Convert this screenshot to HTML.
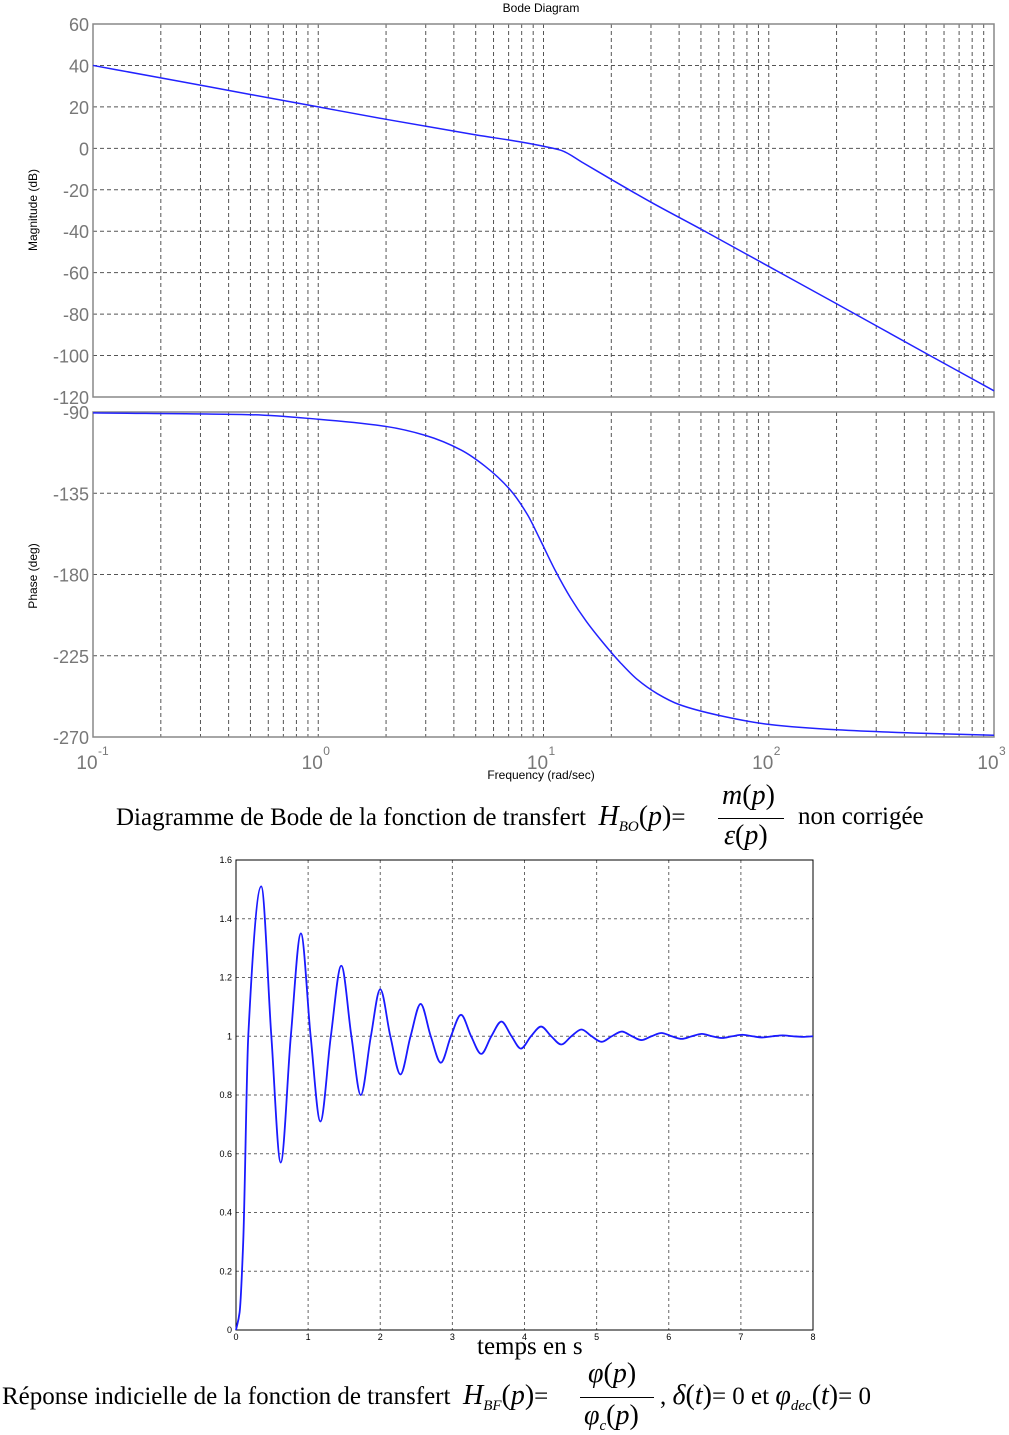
<!DOCTYPE html>
<html><head><meta charset="utf-8">
<style>
body{margin:0;background:#fff;width:1009px;height:1435px;position:relative;overflow:hidden;font-family:"Liberation Sans",sans-serif}
.cap{position:absolute;font-family:"Liberation Serif",serif;font-size:25px;white-space:nowrap;color:#000}
.it{font-style:italic}
.big{font-size:28px}
</style></head><body>
<svg id="bode" width="1009" height="800" style="position:absolute;left:0;top:0"></svg>
<svg id="step" width="1009" height="1360" style="position:absolute;left:0;top:0"></svg>

<div class="cap" style="left:116px;top:801px">Diagramme de Bode de la fonction de transfert&nbsp; <span class="it big">H</span><sub class="it" style="font-size:15px">BO</sub><span class="big">(</span><span class="it big">p</span><span class="big">)</span>=</div>
<div class="cap" style="left:722px;top:780px"><span class="it big">m</span><span class="big">(</span><span class="it big">p</span><span class="big">)</span></div>
<div style="position:absolute;left:718px;top:818px;width:66px;height:1px;background:#000"></div>
<div class="cap" style="left:724px;top:820px"><span class="it big">ε</span><span class="big">(</span><span class="it big">p</span><span class="big">)</span></div>
<div class="cap" style="left:798px;top:803px">non corrigée</div>

<div class="cap" style="left:477px;top:1333px">temps en s</div>
<div class="cap" style="left:2px;top:1380px">Réponse indicielle de la fonction de transfert&nbsp; <span class="it big">H</span><sub class="it" style="font-size:15px">BF</sub><span class="big">(</span><span class="it big">p</span><span class="big">)</span>=</div>
<div class="cap" style="left:588px;top:1358px"><span class="it big">φ</span><span class="big">(</span><span class="it big">p</span><span class="big">)</span></div>
<div style="position:absolute;left:580px;top:1397px;width:74px;height:1px;background:#000"></div>
<div class="cap" style="left:584px;top:1400px"><span class="it big">φ</span><sub class="it" style="font-size:15px">c</sub><span class="big">(</span><span class="it big">p</span><span class="big">)</span></div>
<div class="cap" style="left:660px;top:1380px">, <span class="it big">δ</span><span class="big">(</span><span class="it big">t</span><span class="big">)</span>= 0 et <span class="it big">φ</span><sub class="it" style="font-size:15px">dec</sub><span class="big">(</span><span class="it big">t</span><span class="big">)</span>= 0</div>

<script>
const magFreq=[0.1,0.2,0.5,1,2,5,8,10,12,15,20,30,50,100,200,500,1000];
const magDb=[40,34,26,20,14,6.5,3,1,-1,-7,-15,-26,-39,-57,-75,-99,-117];
const phFreq=[0.1,0.5,1,2,3,4.3,5.5,7.1,8.5,9.6,11.3,13.2,15.5,17.9,22,26,32,40,60,100,200,500,1000];
const phDeg=[-90.5,-91.5,-94,-98,-103,-111,-120,-133,-147,-160,-178,-193,-206,-216,-229,-238,-246,-252,-258,-263,-266,-268,-269];
const magTicks=[60,40,20,0,-20,-40,-60,-80,-100,-120];
const phTicks=[-90,-135,-180,-225,-270];
const decades=[-1,0,1,2,3];
const stepT=[0,0.05,0.1,0.17,0.35,0.49,0.62,0.76,0.9,1.035,1.17,1.315,1.46,1.6,1.73,1.87,2.0,2.14,2.28,2.42,2.56,2.7,2.84,2.98,3.12,3.26,3.4,3.54,3.68,3.82,3.95,4.09,4.23,4.37,4.51,4.65,4.79,4.93,5.07,5.21,5.35,5.49,5.62,5.76,5.9,6.04,6.18,6.32,6.46,6.6,6.74,6.88,7.02,7.16,7.3,7.44,7.58,7.72,7.86,8];
const stepY=[0,0.06,0.3,1.0,1.51,1.0,0.57,1.0,1.35,1.0,0.71,1.0,1.24,1.0,0.80,1.0,1.16,1.0,0.87,1.0,1.11,1.0,0.91,1.0,1.073,1.0,0.94,1.0,1.05,1.0,0.958,1.0,1.033,1.0,0.972,1.0,1.023,1.0,0.981,1.0,1.016,1.0,0.987,1.0,1.011,1.0,0.991,1.0,1.008,1.0,0.994,1.0,1.005,1.0,0.996,1.0,1.003,1.0,0.998,1.0];
const stepXTicks=[0,1,2,3,4,5,6,7,8];
const stepYTicks=[0,0.2,0.4,0.6,0.8,1,1.2,1.4,1.6];

const NS='http://www.w3.org/2000/svg';
function mk(svg,tag,a){const e=document.createElementNS(NS,tag);for(const k in a)e.setAttribute(k,a[k]);svg.appendChild(e);return e;}
// monotone cubic (Fritsch-Carlson) path through points
function mono(pts){const n=pts.length,dx=[],m=[],s=[];
for(let i=0;i<n-1;i++){dx[i]=pts[i+1][0]-pts[i][0];s[i]=(pts[i+1][1]-pts[i][1])/dx[i];}
m[0]=s[0];m[n-1]=s[n-2];
for(let i=1;i<n-1;i++){if(s[i-1]*s[i]<=0)m[i]=0;else{const w1=2*dx[i]+dx[i-1],w2=dx[i]+2*dx[i-1];m[i]=(w1+w2)/(w1/s[i-1]+w2/s[i]);}}
let d='M'+pts[0][0]+','+pts[0][1];
for(let i=0;i<n-1;i++){const h=dx[i]/3;d+=' C'+(pts[i][0]+h)+','+(pts[i][1]+m[i]*h)+' '+(pts[i+1][0]-h)+','+(pts[i+1][1]-m[i+1]*h)+' '+pts[i+1][0]+','+pts[i+1][1];}
return d;}

// Bode
const B=document.getElementById('bode');
const X0=93,X1=994;
const fx=f=>X0+(Math.log10(f)+1)/4*(X1-X0);
const my=v=>24+(60-v)/180*(397-24);
const py=v=>412+(-90-v)/180*(737-412);
let t=mk(B,'text',{x:541,y:12,'font-size':12,'text-anchor':'middle',fill:'#000'});t.textContent='Bode Diagram';

function panel(y0,y1,ticks,yf,name){
  const g=mk(B,'g',{});
  for(let d=-1;d<3;d++)for(let m=1;m<10;m++){const x=fx(m*Math.pow(10,d));if(m>1||d>-1)mk(g,'line',{x1:x,x2:x,y1:y0,y2:y1,stroke:'#555','stroke-width':1,'stroke-dasharray':'4,3'});}
  ticks.forEach(v=>{const y=yf(v);mk(g,'line',{x1:X0,x2:X1,y1:y,y2:y,stroke:'#555','stroke-width':1,'stroke-dasharray':'4,3'});
    const tt=mk(g,'text',{x:89,y:y+7,'font-size':18,'text-anchor':'end',fill:'#777'});tt.textContent=v;});
  mk(g,'rect',{x:X0,y:y0,width:X1-X0,height:y1-y0,fill:'none',stroke:'#888','stroke-width':1.5});
}
panel(24,397,magTicks,my,'magnitude-panel');
panel(412,737,phTicks,py,'phase-panel');
decades.forEach(d=>{const x=fx(Math.pow(10,d));const tt=mk(B,'text',{x:x-6,y:769,'font-size':19,'text-anchor':'middle',fill:'#777'});tt.textContent='10';
 const s=mk(B,'text',{x:x+5,y:755,'font-size':12,fill:'#777'});s.textContent=d;});
t=mk(B,'text',{x:541,y:779,'font-size':12,'text-anchor':'middle',fill:'#000'});t.textContent='Frequency  (rad/sec)';

t=mk(B,'text',{x:0,y:0,'font-size':12,'text-anchor':'middle',fill:'#000',transform:'translate(37,210) rotate(-90)'});t.textContent='Magnitude (dB)';

t=mk(B,'text',{x:0,y:0,'font-size':12,'text-anchor':'middle',fill:'#000',transform:'translate(37,576) rotate(-90)'});t.textContent='Phase (deg)';

let p=mk(B,'path',{d:mono(magFreq.map((f,i)=>[fx(f),my(magDb[i])])),fill:'none',stroke:'#2222ff','stroke-width':1.5});

p=mk(B,'path',{d:mono(phFreq.map((f,i)=>[fx(f),py(phDeg[i])])),fill:'none',stroke:'#2222ff','stroke-width':1.5});


// Step
const S=document.getElementById('step');
const SX0=236,SX1=813,SY0=860,SY1=1330;
const sx=v=>SX0+v/8*(SX1-SX0);
const sy=v=>SY1-v/1.6*(SY1-SY0);
stepXTicks.forEach(v=>{const x=sx(v);if(v>0&&v<8)mk(S,'line',{x1:x,x2:x,y1:SY0,y2:SY1,stroke:'#666','stroke-dasharray':'3,3'});
 const tt=mk(S,'text',{x:x,y:1340,'font-size':9,'text-anchor':'middle',fill:'#000'});tt.textContent=v;});
stepYTicks.forEach(v=>{const y=sy(v);if(v>0&&v<1.6)mk(S,'line',{x1:SX0,x2:SX1,y1:y,y2:y,stroke:'#666','stroke-dasharray':'3,3'});
 const tt=mk(S,'text',{x:232,y:y+3,'font-size':9,'text-anchor':'end',fill:'#000'});tt.textContent=v;});
mk(S,'rect',{x:SX0,y:SY0,width:SX1-SX0,height:SY1-SY0,fill:'none',stroke:'#000','stroke-width':1});
p=mk(S,'path',{d:mono(stepT.map((v,i)=>[sx(v),sy(stepY[i])])),fill:'none',stroke:'#1a1aff','stroke-width':1.8});

</script>
</body></html>
